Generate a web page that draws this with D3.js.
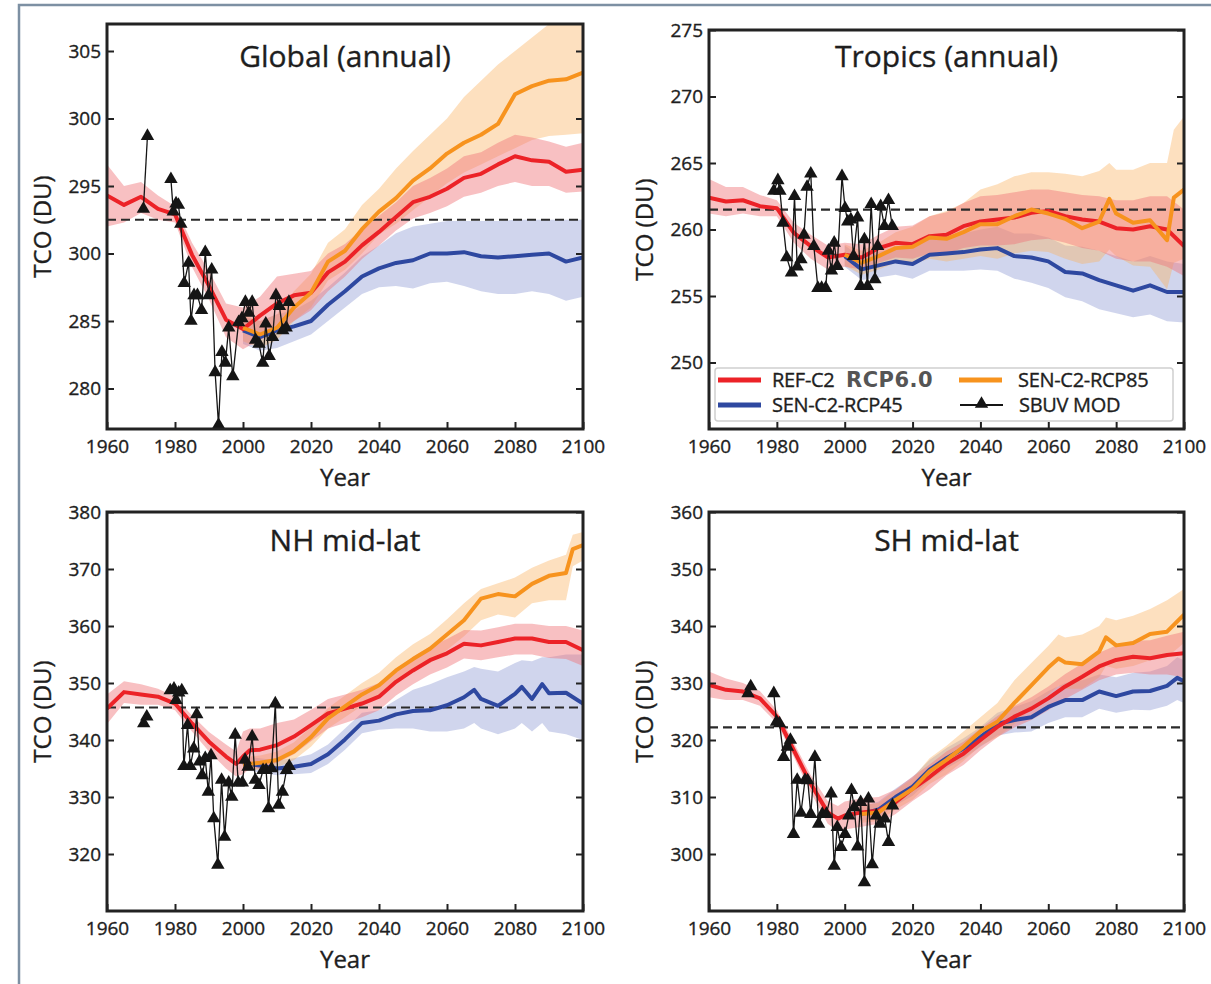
<!DOCTYPE html>
<html>
<head>
<meta charset="utf-8">
<script src="https://cdn.jsdelivr.net/npm/d3@7"></script>
<style>
  body { margin: 0; background: #fff; }
  svg { display: block; }
  text { font-family: "Open Sans", sans-serif; fill: #1e1e1e; }
</style>
</head>
<body>
<svg id="chart" width="1211" height="984"></svg>
<script>
// ---- data: [year, mean, low, high] ----
const globalRef = [[1960,294.3,292.0,296.6],[1965,293.6,292.3,295.0],[1970,294.2,293.0,295.3],[1975,293.3,292.5,294.3],[1980,292.9,292.3,293.5],[1985,289.9,289.0,290.8],[1990,287.6,286.6,288.7],[1995,285.1,283.8,286.3],[2000,284.4,282.9,286.0],[2005,285.4,283.6,286.8],[2010,286.3,284.2,288.3],[2015,286.9,285.0,288.5],[2020,287.1,285.8,288.7],[2025,288.6,287.2,290.0],[2030,289.4,288.3,290.7],[2035,290.6,289.6,291.8],[2040,291.6,290.6,292.8],[2045,292.7,291.7,293.8],[2050,293.8,292.6,295.0],[2055,294.2,293.0,295.6],[2060,294.8,293.5,296.3],[2065,295.6,294.2,297.2],[2070,295.9,294.5,297.5],[2075,296.6,295.0,298.2],[2080,297.2,295.3,298.8],[2085,296.9,295.0,298.6],[2090,296.8,295.0,298.3],[2095,296.05,294.5,297.9],[2100,296.2,294.6,298.2]];
const globalRcp85 = [[2000,284.5,283.5,285.5],[2005,284.0,283.0,285.0],[2010,284.5,283.6,285.5],[2015,286.0,285.0,287.2],[2020,287.1,286.0,288.5],[2025,289.4,288.0,290.8],[2030,290.2,288.8,291.8],[2035,291.8,290.0,293.6],[2040,293.1,291.4,294.8],[2045,294.1,292.2,296.3],[2050,295.4,293.2,297.6],[2055,296.3,294.2,298.8],[2060,297.4,295.2,300.0],[2065,298.2,296.0,301.6],[2070,298.8,296.6,302.8],[2075,299.6,297.2,304.0],[2080,301.8,297.8,305.0],[2085,302.4,298.4,306.0],[2090,302.8,298.7,307.0],[2095,302.9,298.8,307.5],[2100,303.4,298.9,307.5]];
const globalRcp45 = [[2000,284.3,283.3,285.3],[2005,283.8,282.8,285.0],[2010,284.3,283.0,285.5],[2015,284.6,283.5,285.8],[2020,285.0,284.0,286.5],[2025,286.2,285.0,287.5],[2030,287.2,286.0,288.6],[2035,288.3,287.0,289.8],[2040,288.9,287.5,290.6],[2045,289.3,287.6,291.5],[2050,289.5,287.4,292.0],[2055,290.0,287.8,292.2],[2060,290.0,287.9,292.4],[2065,290.1,287.6,292.4],[2070,289.8,287.2,292.4],[2075,289.7,287.0,292.4],[2080,289.8,287.0,292.5],[2085,289.9,287.2,292.5],[2090,290.0,287.0,292.5],[2095,289.4,286.5,292.5],[2100,289.7,286.8,292.5]];

const tropicsRef = [[1960,262.4,261.2,263.8],[1965,262.1,261.0,263.2],[1970,262.2,261.2,263.2],[1975,261.75,261.0,262.6],[1980,261.6,261.0,262.2],[1985,259.75,259.0,260.5],[1990,258.75,257.8,259.6],[1995,257.9,257.0,258.8],[2000,258.1,257.2,259.0],[2005,257.9,257.0,258.9],[2010,258.6,257.5,259.6],[2015,259.0,257.9,260.2],[2020,258.9,257.8,260.3],[2025,259.5,258.2,261.0],[2030,259.6,258.2,261.3],[2035,260.25,258.6,262.0],[2040,260.6,258.8,262.5],[2045,260.75,258.8,262.6],[2050,260.9,258.9,262.8],[2055,261.25,259.2,263.0],[2060,261.4,259.3,263.0],[2065,261.0,259.0,262.8],[2070,260.75,258.6,262.6],[2075,260.6,258.4,262.5],[2080,260.1,257.8,262.2],[2085,260.0,257.6,262.2],[2090,260.25,257.6,262.5],[2095,260.0,257.2,262.5],[2100,258.75,256.5,261.5]];
const tropicsRcp85 = [[2000,258.1,257.3,258.9],[2005,257.5,256.6,258.4],[2010,258.0,257.0,259.0],[2015,258.6,257.5,259.8],[2020,258.7,257.4,260.2],[2025,259.4,257.8,261.0],[2030,259.3,257.6,261.4],[2035,259.8,257.8,262.0],[2040,260.4,258.0,263.0],[2045,260.4,257.8,263.4],[2050,261.0,258.2,264.0],[2055,261.5,258.4,264.3],[2060,261.2,258.3,264.3],[2065,260.8,257.8,264.2],[2070,260.1,257.4,264.0],[2075,260.6,257.6,264.4],[2078,262.3,258.5,265.0],[2080,261.2,258.0,264.5],[2085,260.5,257.3,264.5],[2090,260.7,257.2,265.0],[2095,259.2,255.5,265.0],[2097,262.4,257.5,267.5],[2100,263.0,257.8,268.5]];
const tropicsRcp45 = [[2000,258.0,257.2,258.8],[2005,257.0,256.2,257.9],[2010,257.3,256.4,258.3],[2015,257.6,256.6,258.6],[2020,257.4,256.3,258.6],[2025,258.1,256.9,259.3],[2030,258.2,256.9,259.5],[2035,258.3,256.9,259.7],[2040,258.5,257.0,260.0],[2045,258.6,256.9,260.2],[2050,258.0,256.3,259.7],[2055,257.9,256.0,259.7],[2060,257.6,255.6,259.4],[2065,256.8,254.9,258.8],[2070,256.7,254.6,258.7],[2075,256.2,254.0,258.4],[2080,255.8,253.7,258.0],[2085,255.4,253.4,257.6],[2090,255.8,253.6,258.0],[2095,255.3,253.1,257.6],[2100,255.3,253.0,257.4]];

const nhRef = [[1960,345.5,342.8,348.0],[1965,348.4,346.5,350.3],[1970,348.0,346.2,349.8],[1975,347.6,346.2,349.0],[1980,346.4,345.2,347.6],[1985,342.9,341.5,344.3],[1990,339.7,338.0,341.4],[1995,337.1,335.0,339.2],[1998,335.8,333.6,338.0],[2000,337.1,334.0,341.5],[2002,338.2,335.0,342.0],[2005,338.3,335.0,342.0],[2010,339.1,336.0,343.0],[2015,340.6,337.5,343.6],[2020,342.6,339.8,345.3],[2025,344.65,342.0,347.2],[2030,345.5,343.0,348.0],[2035,346.4,344.0,348.8],[2040,347.6,345.2,350.0],[2045,350.2,347.8,352.5],[2050,352.2,349.8,354.6],[2055,354.0,351.5,356.4],[2060,355.2,352.7,357.7],[2065,356.9,354.3,359.3],[2070,356.6,354.0,359.2],[2075,357.2,354.5,359.8],[2080,357.8,355.0,360.4],[2085,357.8,355.0,360.4],[2090,357.2,354.4,360.0],[2095,357.2,354.2,360.0],[2100,355.75,353.0,359.2]];
const nhRcp85 = [[2000,335.7,334.5,337.0],[2005,336.0,334.8,337.3],[2010,336.5,335.2,338.0],[2015,338.0,336.5,339.6],[2020,340.5,338.8,342.3],[2025,343.8,342.0,345.6],[2030,345.9,344.0,347.8],[2035,348.0,346.0,350.0],[2040,349.6,347.6,351.8],[2045,352.2,350.0,354.5],[2050,354.2,352.0,356.8],[2055,356.0,353.5,358.6],[2060,358.5,355.8,361.2],[2065,361.0,358.2,364.0],[2070,364.8,361.0,366.5],[2075,365.6,362.0,367.5],[2080,365.2,361.5,368.5],[2085,367.4,364.0,370.2],[2090,368.8,364.5,371.5],[2095,369.3,364.5,372.5],[2097,373.5,370.5,376.0],[2100,374.2,371.5,376.5]];
const nhRcp45 = [[2000,336.0,334.8,337.2],[2005,335.5,334.3,336.8],[2010,335.0,333.8,336.4],[2015,335.3,334.0,336.8],[2020,335.8,334.2,337.5],[2025,337.5,335.8,339.2],[2030,340.1,338.3,342.0],[2035,343.0,341.2,344.8],[2040,343.4,341.8,345.2],[2045,344.5,342.0,347.0],[2050,345.1,342.0,348.8],[2055,345.2,341.5,349.8],[2060,346.1,341.5,351.0],[2065,347.5,342.0,352.0],[2068,348.8,343.0,352.8],[2070,347.2,342.0,352.5],[2075,346.0,341.0,352.0],[2080,348.1,342.0,353.5],[2082,349.3,343.0,354.0],[2085,347.2,341.5,353.8],[2088,349.8,343.0,354.5],[2090,348.2,341.5,354.5],[2095,348.3,341.0,355.0],[2100,346.4,340.0,355.0]];

const shRef = [[1960,329.65,327.5,332.0],[1965,328.8,327.0,330.8],[1970,328.5,327.0,330.0],[1975,327.3,326.0,328.6],[1980,324.1,323.0,325.2],[1985,318.2,317.0,319.5],[1990,312.3,310.8,313.8],[1995,307.3,305.3,309.3],[1998,306.2,304.0,308.4],[2000,306.75,304.3,309.2],[2005,307.3,304.8,309.8],[2010,307.6,305.3,310.0],[2015,309.1,307.0,311.3],[2020,311.45,309.3,313.6],[2025,313.5,311.3,315.7],[2030,315.85,313.8,318.0],[2035,317.6,315.6,319.7],[2040,320.0,318.2,322.0],[2045,322.3,320.5,324.2],[2050,324.1,322.2,326.0],[2055,325.5,323.5,327.5],[2060,327.3,325.2,329.4],[2065,329.4,327.2,331.6],[2070,331.1,328.8,333.4],[2075,332.9,330.5,335.3],[2080,334.05,331.5,336.6],[2085,334.6,331.8,337.4],[2090,334.35,331.5,337.5],[2095,334.9,331.5,338.3],[2100,335.2,331.0,339.0]];
const shRcp85 = [[2005,307.0,305.5,308.5],[2010,307.3,305.8,309.0],[2015,309.5,307.8,311.2],[2020,311.4,309.5,313.3],[2025,314.5,312.3,316.8],[2030,316.5,314.0,319.0],[2035,318.8,316.3,321.5],[2040,321.5,319.0,324.0],[2045,323.2,320.5,326.5],[2050,326.5,322.8,330.5],[2055,329.6,325.5,333.5],[2060,332.7,328.0,336.5],[2063,334.3,329.5,338.5],[2065,333.6,329.0,338.0],[2070,333.3,329.0,338.5],[2075,335.5,331.0,340.0],[2077,338.0,333.0,341.5],[2080,336.6,332.5,341.0],[2085,337.0,333.0,341.8],[2090,338.6,334.0,343.0],[2095,339.0,334.5,344.5],[2100,342.0,337.0,346.5]];
const shRcp45 = [[2005,307.0,305.8,308.3],[2010,307.8,306.5,309.2],[2015,310.0,308.5,311.5],[2020,311.8,310.2,313.5],[2025,314.8,313.0,316.5],[2030,316.8,315.0,318.6],[2035,318.5,316.7,320.3],[2040,320.5,318.8,322.3],[2045,322.8,320.8,324.8],[2050,323.5,321.3,325.8],[2055,324.0,321.5,326.8],[2060,325.8,323.0,328.6],[2065,327.0,324.0,330.0],[2070,327.0,324.0,330.5],[2075,328.5,325.5,331.5],[2080,327.7,324.8,331.0],[2085,328.5,325.3,331.8],[2090,328.6,325.2,332.0],[2095,329.5,326.0,333.0],[2098,330.9,327.0,334.5],[2100,330.3,326.5,334.0]];

// SBUV MOD observations [year, value]
const globalObs = [[1970.7,293.3],[1971.9,298.7],[1978.8,295.5],[1979.5,293.1],[1980.3,293.7],[1981.0,293.6],[1981.7,292.2],[1982.7,287.8],[1984.0,289.3],[1984.7,285.0],[1985.6,286.9],[1986.6,286.9],[1987.8,285.8],[1988.9,290.1],[1989.9,286.9],[1990.8,288.8],[1991.8,281.2],[1992.8,277.3],[1993.8,282.7],[1994.8,281.9],[1995.8,284.5],[1997.0,280.9],[1998.7,284.9],[1999.7,285.2],[2000.7,286.4],[2001.7,285.6],[2002.7,286.4],[2003.7,283.6],[2004.7,283.3],[2005.8,281.9],[2006.7,284.8],[2007.7,282.4],[2008.7,283.8],[2009.7,286.9],[2010.7,286.1],[2011.7,284.3],[2012.7,284.5],[2013.5,286.4]];
const tropicsObs = [[1979.1,262.9],[1980.3,263.7],[1980.9,262.9],[1981.8,260.5],[1982.9,257.9],[1984.3,256.75],[1985.2,262.5],[1986.0,257.2],[1987.1,257.75],[1988.0,259.6],[1988.9,263.2],[1990.0,264.2],[1990.9,258.75],[1992.1,255.6],[1993.2,255.6],[1994.4,255.6],[1995.2,258.4],[1996.1,256.9],[1996.9,259.0],[1997.8,257.25],[1999.2,264.0],[2000.1,261.6],[2000.9,260.6],[2001.8,260.75],[2002.6,258.0],[2003.8,260.9],[2004.7,255.75],[2005.8,259.25],[2006.7,255.75],[2007.8,261.9],[2008.9,256.25],[2009.7,258.75],[2010.6,261.75],[2011.7,260.25],[2012.9,262.2],[2014.0,260.25]];
const nhObs = [[1970.8,342.9],[1971.7,344.1],[1978.6,348.7],[1979.7,349.0],[1980.3,347.0],[1981.1,348.3],[1982.0,348.7],[1982.6,335.4],[1983.7,342.6],[1984.5,335.4],[1985.5,338.5],[1986.4,344.5],[1987.2,336.2],[1988.0,333.8],[1988.9,336.8],[1989.8,330.9],[1990.6,337.3],[1991.4,326.25],[1992.6,318.1],[1993.7,333.0],[1994.6,323.0],[1995.8,332.5],[1996.7,330.0],[1997.7,340.9],[1998.6,332.5],[1999.8,332.5],[2000.6,336.5],[2001.5,335.3],[2002.7,340.6],[2003.6,333.0],[2004.7,332.1],[2005.9,334.7],[2006.8,334.7],[2007.5,328.0],[2008.4,335.0],[2009.5,346.4],[2010.5,328.6],[2011.6,330.9],[2012.8,334.7],[2013.6,335.4]];
const shObs = [[1971.5,328.2],[1972.3,329.4],[1979.1,328.2],[1979.9,323.2],[1980.8,322.9],[1982.0,317.0],[1983.1,318.8],[1984.0,320.0],[1984.9,303.5],[1986.0,313.0],[1987.1,307.2],[1988.3,313.0],[1989.1,312.9],[1990.0,307.0],[1991.2,317.0],[1992.3,305.3],[1993.4,307.0],[1994.6,307.0],[1996.0,310.6],[1996.9,297.9],[1997.8,304.7],[1998.9,301.2],[2000.1,303.5],[2001.2,306.75],[2002.0,311.2],[2002.8,308.2],[2003.8,301.3],[2004.7,309.1],[2005.8,295.0],[2007.0,309.7],[2008.1,298.2],[2009.3,306.75],[2010.4,305.3],[2011.8,306.2],[2012.9,302.1],[2014.1,308.5]];

// 1980 reference levels (dashed)
const refLevels = [292.5, 261.5, 345.7, 322.2];

// tick values and labels
const xTicks = [1960, 1980, 2000, 2020, 2040, 2060, 2080, 2100];
const globalTicks = [280, 285, 290, 295, 300, 305];
const globalTickLabels = ["280", "285", "300", "295", "300", "305"];
const tropicsTicks = [250, 255, 260, 265, 270, 275];
const nhTicks = [320, 330, 340, 350, 360, 370, 380];
const shTicks = [300, 310, 320, 330, 340, 350, 360];

const titles = ["Global (annual)", "Tropics (annual)", "NH mid-lat", "SH mid-lat"];
const legendLabels = ["REF-C2", "SEN-C2-RCP85", "SEN-C2-RCP45", "SBUV MOD"];

const colors = { ref: "#ec2227", r85: "#f7931e", r45: "#2e48a0", obs: "#151515" };
const bandColors = { ref: "#f07477", r85: "#fbb25e", r45: "#8e9bd4" };

const panels = [
  { title: titles[0], box: [107, 24, 583, 429], domain: [277, 307], ticks: globalTicks, labels: globalTickLabels,
    ref: globalRef, r85: globalRcp85, r45: globalRcp45, obs: globalObs, level: refLevels[0] },
  { title: titles[1], box: [709, 30, 1184, 429], domain: [245, 275], ticks: tropicsTicks, labels: tropicsTicks.map(String),
    ref: tropicsRef, r85: tropicsRcp85, r45: tropicsRcp45, obs: tropicsObs, level: refLevels[1], legend: true },
  { title: titles[2], box: [107, 512, 583, 911], domain: [310, 380], ticks: nhTicks, labels: nhTicks.map(String),
    ref: nhRef, r85: nhRcp85, r45: nhRcp45, obs: nhObs, level: refLevels[2] },
  { title: titles[3], box: [709, 512, 1184, 911], domain: [290, 360], ticks: shTicks, labels: shTicks.map(String),
    ref: shRef, r85: shRcp85, r45: shRcp45, obs: shObs, level: refLevels[3] }
];

const svg = d3.select("#chart");

// outer figure border
svg.append("path")
  .attr("d", "M19,984 L19,5 L1211,5")
  .attr("fill", "none")
  .attr("stroke", "#7d90a3")
  .attr("stroke-width", 2.5);

const tri = d3.symbol().type(d3.symbolTriangle).size(78);

// a touch of stroke so the text looks semibold like the original
const heavy = sel => sel.attr("stroke", "#1e1e1e").attr("stroke-width", 0.35);

panels.forEach((p, pi) => {
  const [x0, y0, x1, y1] = p.box;
  const x = d3.scaleLinear().domain([1960, 2100]).range([x0, x1]);
  const y = d3.scaleLinear().domain(p.domain).range([y1, y0]);

  const clipId = "clip" + pi;
  svg.append("clipPath").attr("id", clipId)
    .append("rect").attr("x", x0).attr("y", y0).attr("width", x1 - x0).attr("height", y1 - y0);

  const g = svg.append("g").attr("clip-path", `url(#${clipId})`);

  const area = d3.area().x(d => x(d[0])).y0(d => y(d[2])).y1(d => y(d[3]));
  const line = d3.line().x(d => x(d[0])).y(d => y(d[1]));

  // uncertainty bands
  [["r45", p.r45, 0.42], ["r85", p.r85, 0.4], ["ref", p.ref, 0.45]].forEach(([k, s, op]) => {
    g.append("path").attr("d", area(s))
      .attr("fill", bandColors[k]).attr("fill-opacity", op);
  });

  // dashed 1980 level
  g.append("line")
    .attr("x1", x0).attr("x2", x1)
    .attr("y1", y(p.level)).attr("y2", y(p.level))
    .attr("stroke", "#2a2a2a").attr("stroke-width", 2.2)
    .attr("stroke-dasharray", "9,5");

  // mean lines
  [["r45", p.r45], ["ref", p.ref], ["r85", p.r85]].forEach(([k, s]) => {
    g.append("path").attr("d", line(s))
      .attr("fill", "none").attr("stroke", colors[k])
      .attr("stroke-width", 4).attr("stroke-linejoin", "round");
  });

  // observations: split at data gaps
  const segs = [];
  p.obs.forEach((d, i) => {
    if (i === 0 || d[0] - p.obs[i - 1][0] > 3) segs.push([]);
    segs[segs.length - 1].push(d);
  });
  const obsLine = d3.line().x(d => x(d[0])).y(d => y(d[1]));
  segs.forEach(s => {
    g.append("path").attr("d", obsLine(s))
      .attr("fill", "none").attr("stroke", colors.obs).attr("stroke-width", 1.3);
  });
  g.selectAll(".tri").data(p.obs).join("path")
    .attr("transform", d => `translate(${x(d[0])},${y(d[1])})`)
    .attr("d", tri).attr("fill", colors.obs);

  // axes with inward ticks
  const styleAxis = sel => {
    sel.select(".domain").remove();
    sel.selectAll(".tick line").attr("stroke", "#222").attr("stroke-width", 2);
    sel.selectAll(".tick text").attr("font-size", 19).attr("font-family", '"Open Sans", sans-serif')
      .attr("fill", "#1e1e1e").call(heavy);
  };
  svg.append("g").attr("transform", `translate(${x0},0)`)
    .call(d3.axisLeft(y).tickValues(p.ticks).tickFormat((d, i) => p.labels[i])
      .tickSizeInner(-7).tickSizeOuter(0).tickPadding(6))
    .call(styleAxis);
  svg.append("g").attr("transform", `translate(${x1},0)`)
    .call(d3.axisRight(y).tickValues(p.ticks).tickFormat("")
      .tickSizeInner(-7).tickSizeOuter(0))
    .call(styleAxis);
  svg.append("g").attr("transform", `translate(0,${y1})`)
    .call(d3.axisBottom(x).tickValues(xTicks).tickFormat(d3.format("d"))
      .tickSizeInner(-7).tickSizeOuter(0).tickPadding(11))
    .call(styleAxis);

  // frame
  svg.append("rect")
    .attr("x", x0).attr("y", y0).attr("width", x1 - x0).attr("height", y1 - y0)
    .attr("fill", "none").attr("stroke", "#222").attr("stroke-width", 3);

  // title & axis labels
  const cx = (x0 + x1) / 2;
  svg.append("text").attr("x", cx).attr("y", pi < 2 ? 67 : 551)
    .attr("text-anchor", "middle").attr("font-size", 30).call(heavy).text(p.title);
  svg.append("text").attr("x", cx).attr("y", y1 + 57)
    .attr("text-anchor", "middle").attr("font-size", 24).call(heavy).text("Year");
  svg.append("text")
    .attr("transform", `translate(${x0 - 66},${(y0 + y1) / 2}) rotate(-90)`)
    .attr("text-anchor", "middle").attr("dominant-baseline", "central")
    .attr("font-size", 24).call(heavy).text("TCO (DU)");

  if (p.legend) {
    const lg = svg.append("g");
    lg.append("rect").attr("x", 715).attr("y", 368).attr("width", 458).attr("height", 53)
      .attr("rx", 3).attr("fill", "#fff").attr("stroke", "#cfcfcf").attr("stroke-width", 1.5);
    const items = [
      { label: legendLabels[0], color: colors.ref, lx: 718, ty: 380 },
      { label: legendLabels[1], color: colors.r85, lx: 959, ty: 380 },
      { label: legendLabels[2], color: colors.r45, lx: 718, ty: 405 },
      { label: legendLabels[3], color: colors.obs, lx: 960, ty: 405, obs: true }
    ];
    items.forEach(it => {
      lg.append("line").attr("x1", it.lx).attr("x2", it.lx + 43)
        .attr("y1", it.ty).attr("y2", it.ty)
        .attr("stroke", it.color).attr("stroke-width", it.obs ? 2 : 5);
      if (it.obs) {
        lg.append("path").attr("transform", `translate(${it.lx + 21.5},${it.ty - 1})`)
          .attr("d", tri).attr("fill", it.color);
      }
      lg.append("text").attr("x", it.lx + (it.lx < 800 ? 54 : 59)).attr("y", it.ty + 7)
        .attr("font-size", 20).attr("letter-spacing", -0.3).call(heavy).text(it.label);
    });
    lg.append("text").attr("x", 846).attr("y", 387)
      .style("font-family", '"DejaVu Sans", sans-serif')
      .attr("font-weight", "bold").attr("font-size", 21).style("fill", "#555").attr("letter-spacing", 0.5)
      .text("RCP6.0");
  }
});
</script>
</body>
</html>
